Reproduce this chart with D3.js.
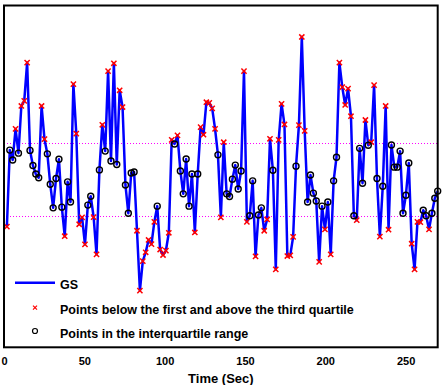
<!DOCTYPE html>
<html>
<head>
<meta charset="utf-8">
<script src="https://cdn.jsdelivr.net/npm/d3@7"></script>
<style>
  body { margin: 0; background: #fff; }
  svg { display: block; font-family: "Liberation Sans", Arial, Helvetica, sans-serif; font-weight: bold; }
</style>
</head>
<body>
<div id="chart"></div>
<script>
// GS signal, one sample every 1.8 s
const sampleStep = 1.8;
const gsValues = [
    3.53, 5.77, 5.48, 6.39, 5.68, 7.06, 7.21, 8.33, 5.76, 5.32,
    5.07, 4.96, 7.06, 6.09, 5.66, 4.77, 4.08, 4.94, 5.50, 4.10,
    3.25, 4.84, 4.25, 7.70, 6.25, 3.60, 3.80, 3.01, 4.16, 4.42,
    3.81, 2.72, 5.19, 6.51, 5.74, 8.08, 5.45, 8.31, 5.35, 7.52,
    7.03, 4.75, 3.92, 5.10, 5.13, 3.41, 1.66, 2.52, 2.78, 3.14,
    3.02, 3.67, 4.13, 2.86, 2.70, 2.83, 3.35, 6.07, 5.95, 6.20,
    5.16, 4.49, 5.51, 4.13, 5.07, 3.36, 5.07, 6.44, 6.22, 7.17,
    7.15, 6.99, 6.39, 5.63, 3.80, 6.00, 4.49, 4.41, 4.92, 5.33,
    4.63, 5.16, 8.08, 3.67, 3.85, 4.87, 2.66, 3.87, 4.08, 3.41,
    3.74, 6.10, 5.18, 2.28, 6.07, 7.12, 6.52, 2.67, 2.69, 3.23,
    5.30, 6.50, 9.08, 6.33, 4.25, 5.04, 4.51, 4.28, 2.50, 4.13,
    3.45, 4.25, 2.72, 4.87, 5.56, 8.33, 7.61, 7.09, 7.57, 6.76,
    3.85, 3.72, 5.82, 4.80, 6.65, 5.91, 6.00, 7.67, 4.94, 3.24,
    4.71, 7.06, 3.44, 5.92, 5.27, 5.27, 5.74, 3.92, 4.45, 5.39,
    3.03, 2.28, 3.67, 3.66, 4.01, 3.85, 3.45, 3.92, 4.36, 4.57
];
const quartiles = [3.83, 5.97];   // first and third quartile
const xTicks = [0, 50, 100, 150, 200, 250];
const legendLabels = ["GS", "Points below the first and above the third quartile", "Points in the interquartile range"];

const width = 443, height = 385;
const margin = {top: 5.5, right: 5.3, bottom: 37.7, left: 4};

const svg = d3.select("#chart").append("svg")
    .attr("width", width)
    .attr("height", height);

const xScale = d3.scaleLinear()
    .domain([0, 270])
    .range([margin.left, width - margin.right]);

const yScale = d3.scaleLinear()
    .domain([0, 10])
    .range([height - margin.bottom, margin.top]);

const data = gsValues.map((v, i) => ({t: (i + 1) * sampleStep, v: v}));
const isOutside = d => d.v < quartiles[0] || d.v > quartiles[1];

// quartile lines
svg.selectAll(".q-line")
    .data(quartiles)
    .enter().append("line")
    .attr("class", "q-line")
    .attr("x1", xScale.range()[0])
    .attr("x2", xScale.range()[1])
    .attr("y1", d => Math.round(yScale(d)) + 0.5)
    .attr("y2", d => Math.round(yScale(d)) + 0.5)
    .attr("stroke", "#ff00ff")
    .attr("stroke-width", 1)
    .attr("stroke-dasharray", "1,2");

// GS line
const line = d3.line()
    .x(d => xScale(d.t))
    .y(d => yScale(d.v));

svg.append("path")
    .datum(data)
    .attr("d", line)
    .attr("fill", "none")
    .attr("stroke", "#0000ff")
    .attr("stroke-width", 2.5)
    .attr("stroke-linejoin", "round");

const crossPath = s => `M${-s},${-s}L${s},${s}M${-s},${s}L${s},${-s}`;

// markers
svg.selectAll(".cross")
    .data(data.filter(isOutside))
    .enter().append("path")
    .attr("class", "cross")
    .attr("transform", d => `translate(${xScale(d.t)},${yScale(d.v)})`)
    .attr("d", crossPath(2.6))
    .attr("stroke", "#ff0000")
    .attr("stroke-width", 1.5)
    .attr("fill", "none");

svg.selectAll(".circ")
    .data(data.filter(d => !isOutside(d)))
    .enter().append("circle")
    .attr("class", "circ")
    .attr("cx", d => xScale(d.t))
    .attr("cy", d => yScale(d.v))
    .attr("r", 3)
    .attr("stroke", "#000")
    .attr("stroke-width", 1.4)
    .attr("fill", "none");

// axes box
svg.append("rect")
    .attr("x", xScale.range()[0])
    .attr("y", margin.top)
    .attr("width", xScale.range()[1] - xScale.range()[0])
    .attr("height", height - margin.bottom - margin.top)
    .attr("fill", "none")
    .attr("stroke", "#000")
    .attr("stroke-width", 2);

const xAxis = d3.axisBottom(xScale)
    .tickValues(xTicks)
    .tickSize(0)
    .tickPadding(10);

svg.append("g")
    .attr("class", "x-axis")
    .attr("transform", `translate(0,${height - margin.bottom})`)
    .call(xAxis)
    .call(g => g.select(".domain").remove())
    .selectAll("text")
    .attr("font-family", "Liberation Sans, Arial, sans-serif")
    .attr("font-weight", "bold")
    .attr("font-size", 11)
    .attr("fill", "#000");

svg.append("text")
    .attr("x", (xScale.range()[0] + xScale.range()[1]) / 2)
    .attr("y", 383.3)
    .attr("text-anchor", "middle")
    .attr("font-size", 13)
    .text("Time (Sec)");

// legend
const legend = svg.append("g").attr("class", "legend");
const legendY = [282.7, 307.7, 331];

legend.append("line")
    .attr("x1", 15).attr("x2", 55)
    .attr("y1", legendY[0]).attr("y2", legendY[0])
    .attr("stroke", "#0000ff")
    .attr("stroke-width", 2.5);

legend.append("path")
    .attr("transform", `translate(35,${legendY[1]})`)
    .attr("d", crossPath(2))
    .attr("stroke", "#ff0000")
    .attr("stroke-width", 1.2);

legend.append("circle")
    .attr("cx", 35).attr("cy", legendY[2])
    .attr("r", 2.5)
    .attr("stroke", "#000")
    .attr("stroke-width", 1.2)
    .attr("fill", "none");

legend.selectAll(".legend-text")
    .data(legendLabels)
    .enter().append("text")
    .attr("class", "legend-text")
    .attr("x", 60)
    .attr("y", (d, i) => legendY[i] + 6.5)
    .attr("font-size", 12.5)
    .text(d => d);
</script>
</body>
</html>
